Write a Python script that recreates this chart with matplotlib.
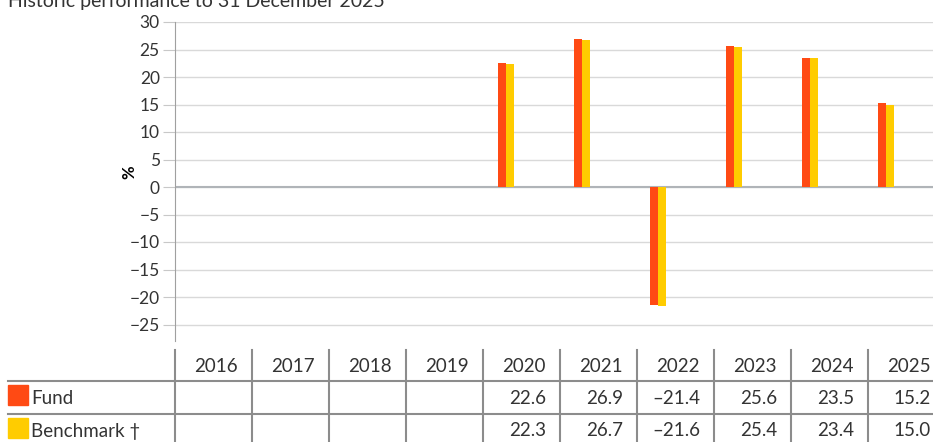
import matplotlib.pyplot as plt
import numpy as np

plt.rcParams['font.family'] = ['Lato', 'DejaVu Sans']

# calendar-year returns, %
years = ['2016', '2017', '2018', '2019', '2020', '2021', '2022', '2023', '2024', '2025']
fund = [None, None, None, None, 22.6, 26.9, -21.4, 25.6, 23.5, 15.2]
benchmark = [None, None, None, None, 22.3, 26.7, -21.6, 25.4, 23.4, 15.0]
series_names = ['Fund', 'Benchmark \u2020']
series_colors = ['#ff4a14', '#ffcc00']

W, H = 933, 442
fig = plt.figure(figsize=(W / 100, H / 100), dpi=100)

# chart area in pixels
left_px, top_px, bottom_px = 175, 22, 341
ax = fig.add_axes([left_px / W, 1 - bottom_px / H, 1 - left_px / W, (bottom_px - top_px) / H])

x = np.arange(len(years))
bw = 0.105
for k, (vals, col) in enumerate(zip([fund, benchmark], series_colors)):
    xs = [xi for xi, v in zip(x, vals) if v is not None]
    vs = [v for v in vals if v is not None]
    ax.bar(np.array(xs) + (k - 0.5) * bw, vs, width=bw, color=col, zorder=3)

ax.set_xlim(-0.355, 9.62)
ax.set_ylim(-28, 30)
ax.set_yticks(np.arange(-25, 31, 5))
ax.set_xticks([])
ax.grid(axis='y', color='#d9d9d9', linewidth=1)
ax.axhline(0, color='#b0b4b8', linewidth=1.5, zorder=2)
for s in ['top', 'right', 'bottom']:
    ax.spines[s].set_visible(False)
ax.spines['left'].set_color('#a0a0a0')
ax.tick_params(axis='y', length=9, color='#c8c8c8', labelsize=12.5, pad=2, labelcolor='#333333')
ax.set_ylabel('%', fontsize=12, fontweight='bold')
ax.yaxis.set_label_coords(-0.049, 0.53)

fig.text(8 / W, 1 - 2 / H, 'Historic performance to 31 December 2025', fontsize=14,
         color='#333333', va='center', ha='left')

# table underneath the chart, drawn in pixel coordinates
tab = fig.add_axes([0, 0, 1, 1], zorder=-1)
tab.set_xlim(0, W)
tab.set_ylim(H, 0)
tab.axis('off')

col_w = 77
grey = '#8c8c8c'
row_lines = [381, 414]
for yl in row_lines:
    tab.plot([8, W], [yl, yl], color=grey, linewidth=1.5)
for i in range(len(years) + 1):
    xl = left_px + i * col_w
    tab.plot([xl, xl], [350, H], color=grey, linewidth=1.5)

text_kw = dict(fontsize=13.5, color='#333333', va='center', ha='right')
for i, yr in enumerate(years):
    xr = left_px + (i + 1) * col_w - 14
    tab.text(xr, 366, yr, **text_kw)
    if fund[i] is not None:
        tab.text(xr, 399, f'{fund[i]:.1f}'.replace('-', '\u2013'), **text_kw)
    if benchmark[i] is not None:
        tab.text(xr, 431, f'{benchmark[i]:.1f}'.replace('-', '\u2013'), **text_kw)

for name, col, yc in zip(series_names, series_colors, [395, 428]):
    tab.add_patch(plt.Rectangle((8, yc - 10), 20, 20, color=col))
    tab.text(31, yc + 4, name, fontsize=13.5, color='#333333', va='center', ha='left')

fig.savefig('out.png', dpi=100)
